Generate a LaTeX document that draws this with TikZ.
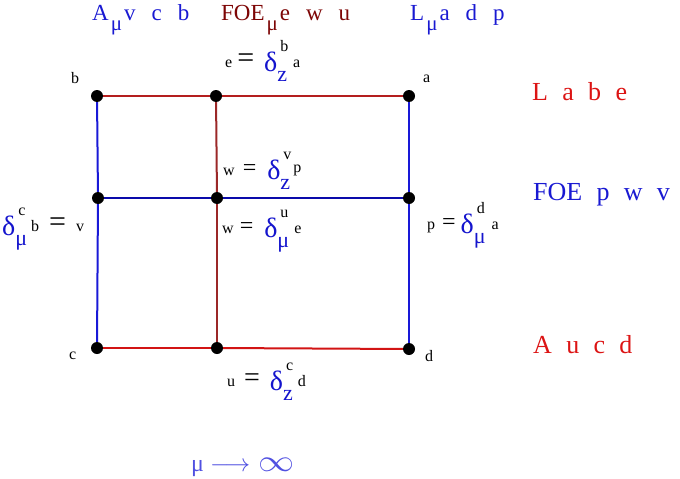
\documentclass[tikz,border=0pt]{standalone}
\usepackage{fontspec}
\setmainfont{Liberation Serif}
\definecolor{dblue}{RGB}{20,20,205}
\definecolor{hblue}{RGB}{25,25,210}
\definecolor{hmaroon}{RGB}{125,5,5}
\definecolor{lred}{RGB}{220,20,20}
\definecolor{arrowblue}{RGB}{80,80,225}
\definecolor{topred}{RGB}{180,30,30}
\definecolor{botred}{RGB}{210,20,20}
\definecolor{midred}{RGB}{155,40,40}
\definecolor{sideblue}{RGB}{25,25,215}
\definecolor{midblue}{RGB}{10,10,170}
\newcommand{\lgap}{\hspace{0.55em}}
\newcommand{\hgap}{\hspace{16pt}}
\newcommand{\hmu}{\hspace{2pt}\raisebox{-10pt}{\fontsize{21}{21}\selectfont μ}\hspace{2pt}}
% delta with a subscript (#1) and a superscript (#2)
\newcommand{\dtens}[2]{%
  \raisebox{-4pt}{\textcolor{dblue}{\fontsize{28}{28}\selectfont δ}}%
  \rlap{\hspace{3pt}\raisebox{16pt}{\fontsize{16}{16}\selectfont #2}}%
  \raisebox{-14pt}{\textcolor{dblue}{\fontsize{22}{22}\selectfont #1}}}
\begin{document}
\begin{tikzpicture}
            [every node/.style={inner sep=0pt},
             dot/.style={circle, minimum size=12pt, fill=black},
             lbl/.style={anchor=base west, font=\fontsize{16}{16}\selectfont},
             head/.style={anchor=base west, font=\fontsize{23}{23}\selectfont},
             side/.style={anchor=base west, font=\fontsize{26}{26}\selectfont},
             edge/.style={line width=2pt}]
                \useasboundingbox (0pt, 0pt) rectangle (680pt, -479pt);
                \node (b) [dot] at (97pt, -96pt) {};
                \node (e) [dot] at (216pt, -96pt) {};
                \node (a) [dot] at (409pt, -96pt) {};
                \node (v) [dot] at (98pt, -198pt) {};
                \node (w) [dot] at (217pt, -198pt) {};
                \node (p) [dot] at (409pt, -198pt) {};
                \node (c) [dot] at (97pt, -348pt) {};
                \node (u) [dot] at (217pt, -348pt) {};
                \node (d) [dot] at (409pt, -349pt) {};
                \draw [edge, color=topred] (b) to (e);
                \draw [edge, color=topred] (e) to (a);
                \draw [edge, color=botred] (c) to (u);
                \draw [edge, color=botred] (u) to (d);
                \draw [edge, color=midred] (e) to (w);
                \draw [edge, color=midred] (w) to (u);
                \draw [edge, color=sideblue] (b) to (v);
                \draw [edge, color=sideblue] (v) to (c);
                \draw [edge, color=sideblue] (a) to (p);
                \draw [edge, color=sideblue] (p) to (d);
                \draw [edge, color=midblue] (v) to (w);
                \draw [edge, color=midblue] (w) to (p);
                % corner letters
                \node (b-name) [lbl] at (71pt, -83pt) {b};
                \node (a-name) [lbl] at (423pt, -82pt) {a};
                \node (c-name) [lbl] at (69pt, -359pt) {c};
                \node (d-name) [lbl] at (425pt, -361pt) {d};
                % relations
                \node (e-rel) [lbl] at (225pt, -67pt) {e\hspace{5pt}{\fontsize{30}{30}\selectfont =}\hspace{10pt}\dtens{z}{b}\hspace{6pt}a};
                \node (w-rel1) [lbl] at (223pt, -175pt) {w\hspace{8pt}{\fontsize{24}{24}\selectfont =}\hspace{11pt}\dtens{z}{v}\hspace{3pt}\raisebox{3pt}{p}};
                \node (w-rel2) [lbl] at (222pt, -233pt) {w\hspace{6pt}{\fontsize{24}{24}\selectfont =}\hspace{11pt}\dtens{μ}{u}\hspace{5pt}e};
                \node (u-rel) [lbl] at (227pt, -386pt) {u\hspace{9pt}{\fontsize{28}{28}\selectfont =}\hspace{10pt}\dtens{z}{c}\hspace{5pt}d};
                \node (p-rel) [lbl] at (427pt, -229pt) {p\hspace{7pt}{\fontsize{24}{24}\selectfont =}\hspace{5pt}\dtens{μ}{d}\hspace{6pt}a};
                \node (v-rel) [lbl] at (2pt, -231pt) {\dtens{μ}{c}\hspace{4pt}b\hspace{10pt}{\fontsize{30}{30}\selectfont =}\hspace{10pt}v};
                % column heads
                \node (col-b) [head, color=hblue] at (92pt, -20pt) {A\hmu v\hgap c\hgap b};
                \node (col-e) [head, color=hmaroon] at (221pt, -20pt) {FOE\hmu e\hgap w\hgap u};
                \node (col-a) [head, color=hblue] at (410pt, -20pt) {L\hmu a\hgap d\hgap p};
                % row heads
                \node (row-b) [side, color=lred] at (532pt, -100pt) {L\lgap a\lgap b\lgap e};
                \node (row-v) [side, color=hblue] at (533pt, -200pt) {FOE\lgap p\lgap w\lgap v};
                \node (row-c) [side, color=lred] at (533pt, -353pt) {A\lgap u\lgap c\lgap d};
                % limit
                \node (limit) [anchor=base west, color=arrowblue, font=\fontsize{24}{24}\selectfont] at (191pt, -471pt) {μ\hspace{6pt}$\longrightarrow$\hspace{8pt}\scalebox{1.45}[1.25]{$\infty$}};
            \end{tikzpicture}
\end{document}
